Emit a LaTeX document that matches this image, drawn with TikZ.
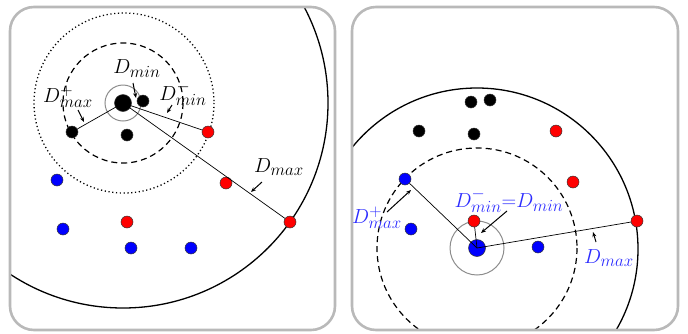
\documentclass[tikz,border=0pt]{standalone}
\usepackage{graphicx}
\usetikzlibrary{arrows.meta}
\DeclareMathSizes{20.74}{20.74}{17.28}{14.4}
\newcommand{\mylab}[1]{\scalebox{0.98}{$#1$}}
\definecolor{panelgray}{RGB}{185,185,185}
\definecolor{ringgray}{RGB}{140,140,140}
\definecolor{lblue}{RGB}{45,45,255}
\tikzset{
  panel/.style={draw=panelgray,line width=2.6pt,rounded corners=24pt},
  dot/.style={circle,draw=black!80,line width=0.5pt,minimum size=12pt,inner sep=0pt},
  bigdot/.style={dot,minimum size=17pt},
  bk/.style={fill=black},
  rd/.style={fill=red},
  bl/.style={fill=blue},
  link/.style={line width=0.7pt},
  ptr/.style={-{Stealth[length=5pt,width=4pt]},line width=1pt},
  lbl/.style={inner sep=0pt,font=\huge},
}
\begin{document}
\begin{tikzpicture}[x=1pt,y=-1pt]
\useasboundingbox (0,0) rectangle (688,333);
% ---------- left panel ----------
\begin{scope}
\clip[rounded corners=24pt] (10,7) rectangle (335,330);
\draw[line width=1.3pt] (123,103) circle[radius=205];
\end{scope}
\draw[panel] (10,7) rectangle (335,330);
\draw[line width=1.3pt,dash pattern=on 1.2pt off 2.6pt] (124,103) circle[radius=90];
\draw[line width=1.2pt,dash pattern=on 6pt off 4pt] (123,103) circle[radius=60];
\draw[ringgray,line width=1pt] (123,103) circle[radius=18];
\node[bigdot,bk] (c1) at (123,103) {};
\node[dot,bk] (k1) at (143,101) {};
\node[dot,bk] (k2) at (127,135) {};
\node[dot,bk] (k3) at (72,132) {};
\node[dot,rd] (r1) at (208,132) {};
\node[dot,rd] (r2) at (226,183) {};
\node[dot,rd] (r3) at (290,222) {};
\node[dot,rd] (r4) at (127,222) {};
\node[dot,bl] (b1) at (57,180) {};
\node[dot,bl] (b2) at (63,229) {};
\node[dot,bl] (b3) at (131,248) {};
\node[dot,bl] (b4) at (191,248) {};
\draw[link] (c1.center) -- (k3);
\draw[link] (c1.center) -- (r1);
\draw[link] (c1.center) -- (r3);
\node[lbl] (l1) at (137,69) {\mylab{D_{min}}};
\node[lbl] (l2) at (183,94) {\mylab{D^-_{min}}};
\node[lbl] (l3) at (68,97) {\mylab{D^+_{max}}};
\node[lbl] (l4) at (279,167) {\mylab{D_{max}}};
\coordinate (a1s) at (133,83); \coordinate (a1e) at (136,98);
\coordinate (a2s) at (172,105); \coordinate (a2e) at (167,113);
\coordinate (a3s) at (78,110); \coordinate (a3e) at (84,122);
\coordinate (a4s) at (262,182); \coordinate (a4e) at (251,192);
\draw[ptr] (a1s) -- (a1e);
\draw[ptr] (a2s) -- (a2e);
\draw[ptr] (a3s) -- (a3e);
\draw[ptr] (a4s) -- (a4e);
% ---------- right panel ----------
\begin{scope}
\clip[rounded corners=24pt] (352,7) rectangle (678,330);
\draw[line width=1.3pt] (477,249) circle[radius=161];
\draw[line width=1.2pt,dash pattern=on 6pt off 4pt] (477,248) circle[radius=100];
\end{scope}
\draw[panel] (352,7) rectangle (678,330);
\draw[ringgray,line width=1pt] (477,248) circle[radius=27];
\node[bigdot,bl] (c2) at (477,248) {};
\node[dot,rd] (s1) at (474,221) {};
\node[dot,bl] (t1) at (405,179) {};
\node[dot,bl] (t2) at (411,229) {};
\node[dot,bl] (t3) at (538,247) {};
\node[dot,rd] (s2) at (573,182) {};
\node[dot,rd] (s3) at (556,131) {};
\node[dot,rd] (s4) at (637,221) {};
\node[dot,bk] (u1) at (471,102) {};
\node[dot,bk] (u2) at (490,100) {};
\node[dot,bk] (u3) at (419,131) {};
\node[dot,bk] (u4) at (474,134) {};
\draw[link] (c2.center) -- (s1);
\draw[link] (c2.center) -- (t1);
\draw[link] (c2.center) -- (s4);
\node[lbl,text=lblue] (m1) at (509,201) {\mylab{D^-_{min}{=}D_{min}}};
\node[lbl,text=lblue] (m2) at (377,218) {\mylab{D^+_{max}}};
\node[lbl,text=lblue] (m3) at (609,258) {\mylab{D_{max}}};
\coordinate (b1s) at (507,211); \coordinate (b1e) at (481,233);
\coordinate (b2s) at (387,212); \coordinate (b2e) at (411,190);
\coordinate (b3s) at (596,242); \coordinate (b3e) at (593,232);
\draw[ptr] (b1s) -- (b1e);
\draw[ptr] (b2s) -- (b2e);
\draw[ptr] (b3s) -- (b3e);
\end{tikzpicture}
\end{document}
